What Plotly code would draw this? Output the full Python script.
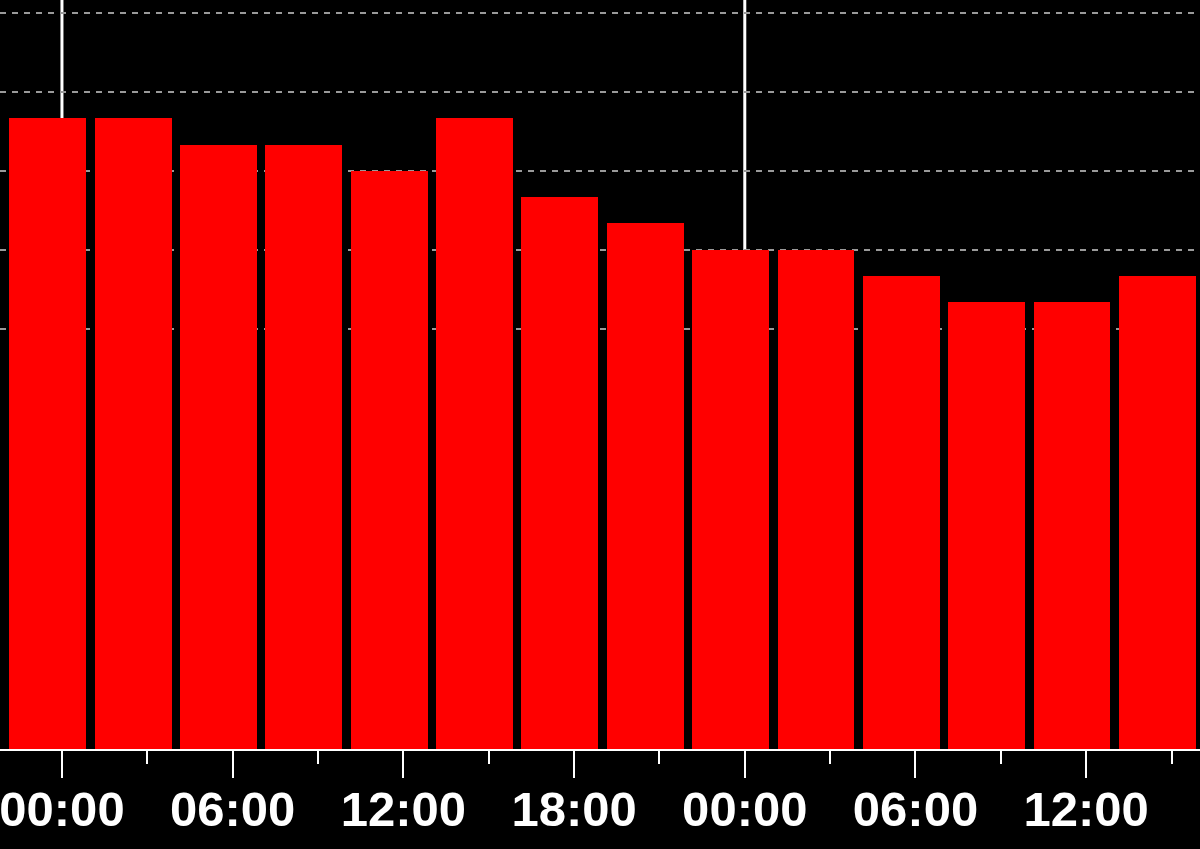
import plotly.graph_objects as go

# bar centres (3-hour blocks) and their values
bar_times = [
    "2023-12-31 23:30", "2024-01-01 02:30", "2024-01-01 05:30", "2024-01-01 08:30",
    "2024-01-01 11:30", "2024-01-01 14:30", "2024-01-01 17:30", "2024-01-01 20:30",
    "2024-01-01 23:30", "2024-01-02 02:30", "2024-01-02 05:30", "2024-01-02 08:30",
    "2024-01-02 11:30", "2024-01-02 14:30",
]
bar_values = [24, 24, 23, 23, 22, 24, 21, 20, 19, 19, 18, 17, 17, 18]
grid_values = [16, 19, 22, 25, 28]
midnights = ["2024-01-01 00:00", "2024-01-02 00:00"]

HOUR = 3600 * 1000

fig = go.Figure()
fig.add_trace(go.Bar(
    x=bar_times, y=bar_values,
    width=2.7 * HOUR,
    marker=dict(color="#ff0000", line=dict(width=0)),
    hoverinfo="x+y",
))

# day separators, drawn behind the bars
for m in midnights:
    fig.add_shape(
        type="line", x0=m, x1=m, y0=0, y1=1, yref="paper",
        line=dict(color="white", width=3), layer="below",
    )

fig.update_layout(
    width=1200, height=849,
    margin=dict(l=0, r=0, t=0, b=100, pad=0, autoexpand=False),
    paper_bgcolor="black", plot_bgcolor="black",
    showlegend=False,
    bargap=0,
)
fig.update_xaxes(
    type="date",
    range=["2023-12-31 21:49:20", "2024-01-02 16:00"],
    tick0="2024-01-01 00:00", dtick=6 * HOUR,
    tickformat="%H:%M",
    ticks="outside", ticklen=27, tickwidth=2, tickcolor="white",
    minor=dict(dtick=3 * HOUR, ticks="outside", ticklen=13, tickwidth=2,
               tickcolor="white", showgrid=False),
    showline=True, linecolor="white", linewidth=2,
    showgrid=False, zeroline=False,
    automargin=False, ticklabeloverflow="allow",
    ticklabelstandoff=-11,
    tickfont=dict(family="Liberation Sans", size=49, color="white", weight="bold"),
)
fig.update_yaxes(
    range=[0, 28.5],
    tickvals=grid_values, showticklabels=False,
    showgrid=True, gridcolor="#9a9a9a", gridwidth=1.5, griddash="6px,6px",
    zeroline=False, showline=False, automargin=False,
)

# drop the default page margin so the figure sits at the window corner
fig.write_html(
    "out.html",
    config={"displayModeBar": False},
    post_script="document.body.style.margin='0';document.body.style.background='black';",
)
